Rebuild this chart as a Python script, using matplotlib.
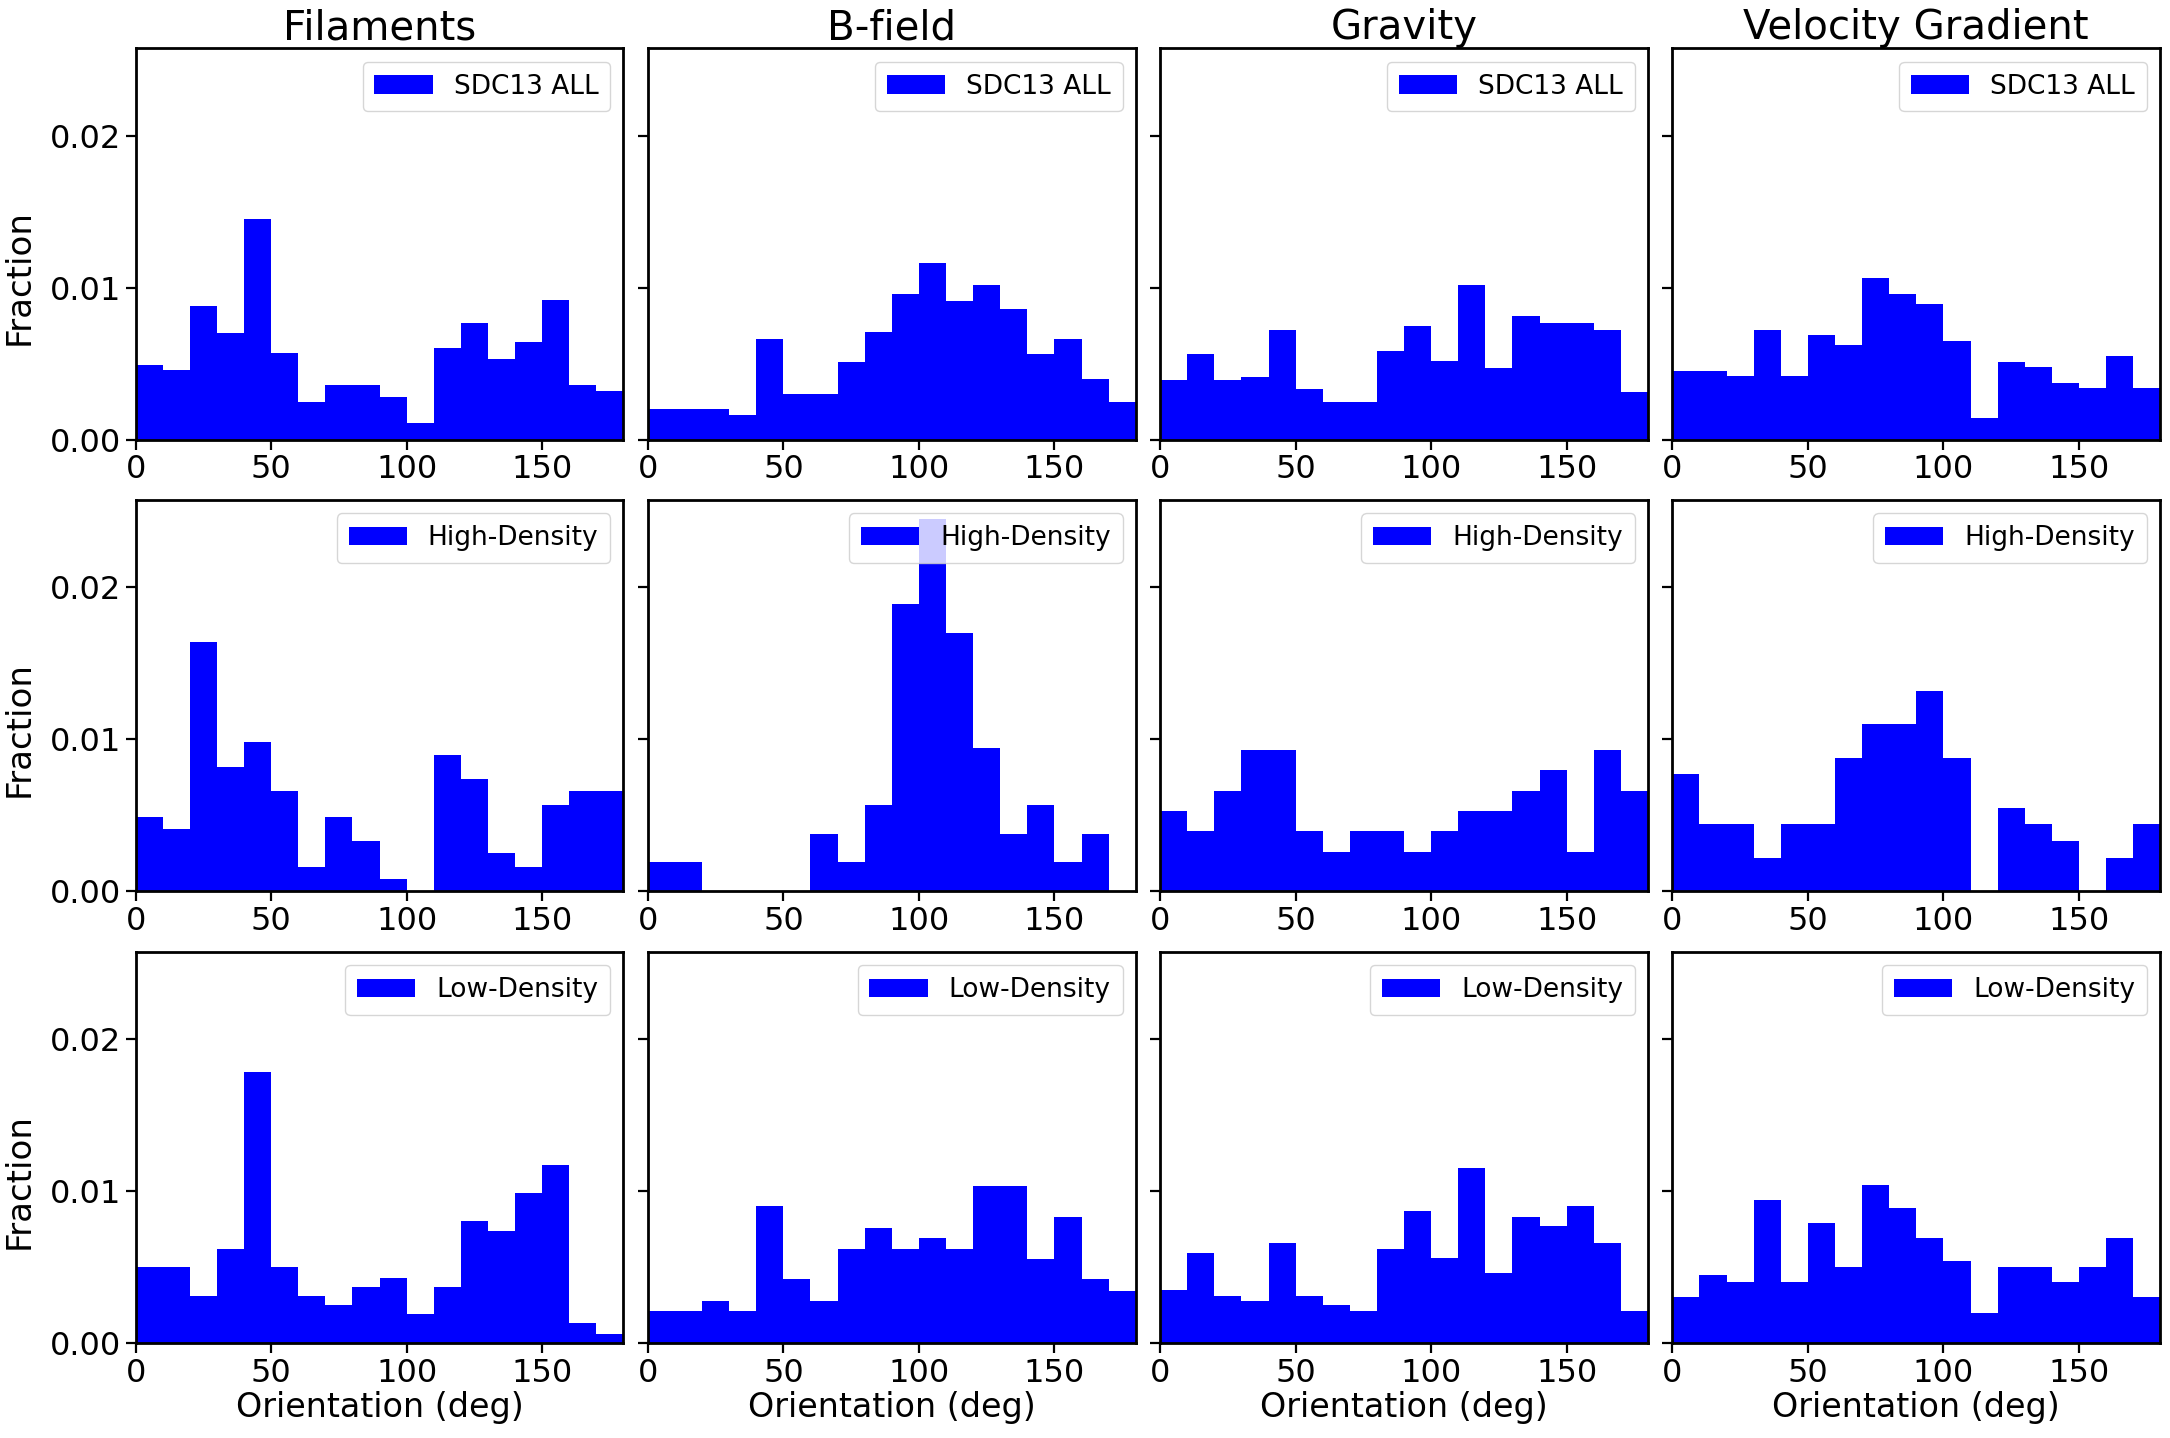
import matplotlib
matplotlib.use("Agg")
import matplotlib.pyplot as plt
import numpy as np

# bin edges (deg) and per-bin fractions
edges = np.arange(0, 190, 10)

columns = ["Filaments", "B-field", "Gravity", "Velocity Gradient"]
rows = ["SDC13 ALL", "High-Density", "Low-Density"]

# SDC13 ALL
fil_all = [0.0049, 0.0046, 0.0088, 0.0070, 0.0145, 0.0057, 0.0025, 0.0036, 0.0036,
           0.0028, 0.0011, 0.0060, 0.0077, 0.0053, 0.0064, 0.0092, 0.0036, 0.0032]
bf_all = [0.0020, 0.0020, 0.0020, 0.0016, 0.0066, 0.0030, 0.0030, 0.0051, 0.0071,
          0.0096, 0.0116, 0.0091, 0.0102, 0.0086, 0.0056, 0.0066, 0.0040, 0.0025]
grav_all = [0.0039, 0.0056, 0.0039, 0.0041, 0.0072, 0.0033, 0.0025, 0.0025, 0.0058,
            0.0075, 0.0052, 0.0102, 0.0047, 0.0081, 0.0077, 0.0077, 0.0072, 0.0031]
vg_all = [0.0045, 0.0045, 0.0042, 0.0072, 0.0042, 0.0069, 0.0062, 0.0106, 0.0096,
          0.0089, 0.0065, 0.0014, 0.0051, 0.0048, 0.0037, 0.0034, 0.0055, 0.0034]

# High-Density
fil_high = [0.0049, 0.0041, 0.0164, 0.0082, 0.0098, 0.0066, 0.0016, 0.0049, 0.0033,
            0.0008, 0.0, 0.0090, 0.0074, 0.0025, 0.0016, 0.0057, 0.0066, 0.0066]
bf_high = [0.0019, 0.0019, 0.0, 0.0, 0.0, 0.0, 0.0038, 0.0019, 0.0057,
           0.0189, 0.0245, 0.0170, 0.0094, 0.0038, 0.0057, 0.0019, 0.0038, 0.0]
grav_high = [0.0053, 0.0040, 0.0066, 0.0093, 0.0093, 0.0040, 0.0026, 0.0040, 0.0040,
             0.0026, 0.0040, 0.0053, 0.0053, 0.0066, 0.0080, 0.0026, 0.0093, 0.0066]
vg_high = [0.0077, 0.0044, 0.0044, 0.0022, 0.0044, 0.0044, 0.0088, 0.0110, 0.0110,
           0.0132, 0.0088, 0.0, 0.0055, 0.0044, 0.0033, 0.0, 0.0022, 0.0044]

# Low-Density
fil_low = [0.0050, 0.0050, 0.0031, 0.0062, 0.0178, 0.0050, 0.0031, 0.0025, 0.0037,
           0.0043, 0.0019, 0.0037, 0.0080, 0.0074, 0.0099, 0.0117, 0.0013, 0.0006]
bf_low = [0.0021, 0.0021, 0.0028, 0.0021, 0.0090, 0.0042, 0.0028, 0.0062, 0.0076,
          0.0062, 0.0069, 0.0062, 0.0103, 0.0103, 0.0055, 0.0083, 0.0042, 0.0034]
grav_low = [0.0035, 0.0059, 0.0031, 0.0028, 0.0066, 0.0031, 0.0025, 0.0021, 0.0062,
            0.0087, 0.0056, 0.0115, 0.0046, 0.0083, 0.0077, 0.0090, 0.0066, 0.0021]
vg_low = [0.0030, 0.0045, 0.0040, 0.0094, 0.0040, 0.0079, 0.0050, 0.0104, 0.0089,
          0.0069, 0.0054, 0.0020, 0.0050, 0.0050, 0.0040, 0.0050, 0.0069, 0.0030]

data = [[fil_all, bf_all, grav_all, vg_all],
        [fil_high, bf_high, grav_high, vg_high],
        [fil_low, bf_low, grav_low, vg_low]]

fig, axes = plt.subplots(3, 4, figsize=(21.7, 14.38), dpi=100, sharey=True)
fig.subplots_adjust(left=0.0625, right=0.9955, top=0.9663, bottom=0.066,
                    wspace=0.05, hspace=0.155)

centers = edges[:-1] + 5
for i, label in enumerate(rows):
  for j, title in enumerate(columns):
    ax = axes[i, j]
    ax.hist(centers, bins=edges, weights=data[i][j], color="b", label=label)
    ax.legend(loc="upper right", fontsize=19, handlelength=2.2, borderpad=0.45)
    ax.set_xlim(0, 180)
    ax.set_xticks([0, 50, 100, 150])
    ax.set_yticks([0.0, 0.01, 0.02])
    ax.yaxis.set_major_formatter(matplotlib.ticker.FormatStrFormatter("%.2f"))
    ax.tick_params(labelsize=23, width=1.6, length=7)
    for s in ax.spines.values():
      s.set_linewidth(2.0)
    if i == 0:
      ax.set_title(title, fontsize=29, pad=4)
    if j == 0:
      ax.set_ylabel("Fraction", fontsize=24.5)
      ax.yaxis.set_label_coords(-0.205, 0.415)
    if i == 2:
      ax.set_xlabel("Orientation (deg)", fontsize=24, labelpad=2)

fig.savefig("out.png")
